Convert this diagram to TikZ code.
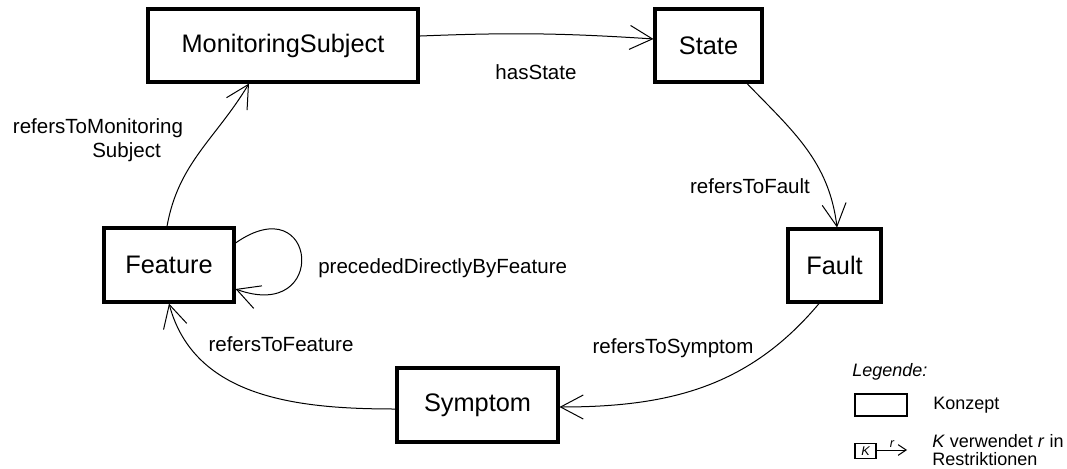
\documentclass[tikz,border=0pt]{standalone}
\usepackage{fontspec}
\setmainfont{Liberation Sans}
\usetikzlibrary{arrows.meta,calc}
\newcommand{\boxfont}{\fontsize{19}{22}\selectfont}
\newcommand{\labfont}{\fontsize{15.4}{18}\selectfont}
\newcommand{\legfont}{\fontsize{13.5}{13.5}\selectfont}
\newcommand{\smallfont}{\fontsize{9.5}{10}\selectfont}
\begin{document}
\begin{tikzpicture}[x=0.75pt,y=0.75pt,
  concept/.style={draw, line width=2.3pt, inner sep=0pt, font=\boxfont},
  rel/.style={draw, line width=0.75pt, -{Straight Barb[length=17pt,width=18pt]}},
  lab/.style={font=\labfont, inner sep=0pt}]
\useasboundingbox (0,0) rectangle (1067,-468);
% concepts
\node[concept, minimum width=202.5pt, minimum height=54.75pt] (ms) at (283,-45.5) {MonitoringSubject};
\node[concept, minimum width=80.25pt, minimum height=54.75pt] (state) at (708.5,-45.5) {State};
\node[concept, minimum width=69.75pt, minimum height=54.75pt] (fault) at (834.5,-265.5) {Fault};
\node[concept, minimum width=120.75pt, minimum height=55.5pt] (symptom) at (477.5,-405) {Symptom};
\node[concept, minimum width=97.5pt, minimum height=55.5pt] (feature) at (169,-265) {Feature};
% relations
\draw[rel] ([yshift=7.1pt]ms.east) to[bend left=3] ([yshift=4.9pt]state.west);
\draw[rel] ([xshift=28.9pt]state.south) to[out=-46,in=97] ([xshift=1.9pt]fault.north);
\draw[rel] ([xshift=-11.6pt]fault.south) to[out=-130,in=0] ([yshift=-1.5pt]symptom.east);
\draw[rel] ([yshift=-3pt]symptom.west) to[out=180,in=-75] (feature.south);
\draw[rel] ([xshift=-1.5pt]feature.north) to[out=80,in=-121] ([xshift=-25.5pt]ms.south);
\draw[rel] ([yshift=16.5pt]feature.east) .. controls +(35:100) and +(-20:100) .. ([yshift=-18pt]feature.east);
% labels
\node[lab] (lhas) at (536,-72) {hasState};
\node[lab] (lfault) at (750,-186) {refersToFault};
\node[lab] (lsym) at (673,-348) {refersToSymptom};
\node[lab] (lfeat) at (281,-344) {refersToFeature};
\node[lab, anchor=west] (lprec) at (318,-268) {precededDirectlyByFeature};
\node[lab] (lmon1) at (98,-128) {refersToMonitoring};
\node[lab, anchor=west] (lmon2) at (92,-152) {Subject};
% legend
\node[anchor=west, font=\legfont\itshape, inner sep=0pt] (leg) at (852,-372) {Legende:};
\node[draw, line width=1.5pt, minimum width=39pt, minimum height=16.5pt, inner sep=0pt] (legbox) at (881,-405) {};
\node[anchor=west, font=\legfont, inner sep=0pt] (konz) at (933,-405) {Konzept};
\node[draw, line width=1.1pt, minimum width=15.75pt, minimum height=11.5pt, inner sep=0pt, font=\smallfont\itshape] (kbox) at (865.5,-451) {K};
\coordinate (kend) at (907,-450);
\draw[line width=0.75pt, -{Straight Barb[length=6pt,width=8pt]}] ([yshift=0.75pt]kbox.east) -- node[above, font=\smallfont\itshape, inner sep=1.5pt] (rlab) {r} (kend);
\node[anchor=south west, font=\legfont, align=left, inner sep=0pt] (kv) at (932,-466) {\textit{K} verwendet \textit{r} in\\Restriktionen};
\end{tikzpicture}
\end{document}
